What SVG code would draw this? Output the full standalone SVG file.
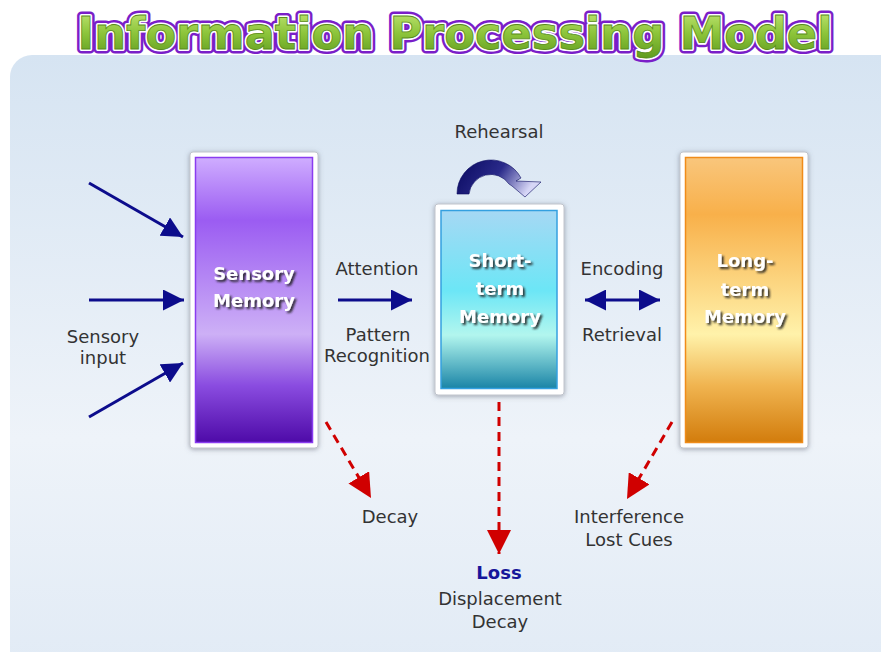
<svg xmlns="http://www.w3.org/2000/svg" width="881" height="652" viewBox="0 0 881 652">
  <defs>
    <linearGradient id="panelFill" x1="0" y1="0" x2="0" y2="1">
      <stop offset="0" stop-color="#d6e4f2"/>
      <stop offset="0.6" stop-color="#eef3f9"/>
      <stop offset="1" stop-color="#e0eaf5"/>
    </linearGradient>
    <linearGradient id="titleFill" x1="0" y1="0" x2="0" y2="1">
      <stop offset="0" stop-color="#c4e878"/>
      <stop offset="0.5" stop-color="#8cc43a"/>
      <stop offset="1" stop-color="#5e9a1e"/>
    </linearGradient>
    <linearGradient id="sensoryFill" x1="0" y1="0" x2="0" y2="1">
      <stop offset="0" stop-color="#cfadff"/>
      <stop offset="0.22" stop-color="#9b5cf2"/>
      <stop offset="0.62" stop-color="#cdb0f6"/>
      <stop offset="0.8" stop-color="#8a4ce0"/>
      <stop offset="1" stop-color="#4e0aa8"/>
    </linearGradient>
    <linearGradient id="shortFill" x1="0" y1="0" x2="0" y2="1">
      <stop offset="0" stop-color="#a6d8f4"/>
      <stop offset="0.45" stop-color="#6ce6f6"/>
      <stop offset="0.7" stop-color="#b2f6ee"/>
      <stop offset="1" stop-color="#1a84a6"/>
    </linearGradient>
    <linearGradient id="longFill" x1="0" y1="0" x2="0" y2="1">
      <stop offset="0" stop-color="#f9c67c"/>
      <stop offset="0.2" stop-color="#f8b04a"/>
      <stop offset="0.62" stop-color="#fff2aa"/>
      <stop offset="0.8" stop-color="#f0b450"/>
      <stop offset="1" stop-color="#d27c0c"/>
    </linearGradient>
    <linearGradient id="loopFill" x1="0" y1="0" x2="1" y2="0.3">
      <stop offset="0" stop-color="#08085e"/>
      <stop offset="0.55" stop-color="#2a2a8a"/>
      <stop offset="1" stop-color="#d6d6f6"/>
    </linearGradient>
    <filter id="frameShadow" x="-20%" y="-10%" width="140%" height="120%">
      <feDropShadow dx="0" dy="1" stdDeviation="2.5" flood-color="#5a6070" flood-opacity="0.55"/>
    </filter>
    <filter id="textShadow" x="-20%" y="-40%" width="140%" height="180%">
      <feDropShadow dx="2" dy="2" stdDeviation="1" flood-color="#1a1a1a" flood-opacity="0.9"/>
    </filter>
    <marker id="navyHead" viewBox="0 0 10 10" refX="10" refY="5" markerWidth="7" markerHeight="7" orient="auto-start-reverse" markerUnits="strokeWidth">
      <path d="M0,0 L10,5 L0,10 Z" fill="#0c0c8c"/>
    </marker>
    <marker id="redHead" viewBox="0 0 10 10" refX="10" refY="5" markerWidth="8" markerHeight="8" orient="auto" markerUnits="strokeWidth">
      <path d="M0,0 L10,5 L0,10 Z" fill="#d00000"/>
    </marker>
    <style>
      .label { font-family: "DejaVu Sans", Verdana, sans-serif; font-size: 18px; fill: #333333; text-anchor: middle; }
      .loss { font-family: "DejaVu Sans", Verdana, sans-serif; font-size: 18px; font-weight: bold; fill: #16169a; text-anchor: middle; }
      .boxText { font-family: "DejaVu Sans", Verdana, sans-serif; font-size: 18px; font-weight: bold; fill: #ffffff; text-anchor: middle; }
      .frame { fill: #ffffff; stroke: #c0c4cc; stroke-width: 1; }
      .navy { stroke: #0c0c8c; stroke-width: 3; fill: none; marker-end: url(#navyHead); }
      .redDash { stroke: #d00000; stroke-width: 3; fill: none; stroke-dasharray: 9 6; marker-end: url(#redHead); }
      .title { font-family: "DejaVu Sans", Verdana, sans-serif; font-size: 44px; font-weight: bold; }
    </style>
  </defs>

  <!-- page and backdrop panel -->
  <rect x="0" y="0" width="881" height="652" fill="#ffffff"/>
  <rect x="10" y="55" width="900" height="640" rx="22" fill="url(#panelFill)"/>

  <!-- title: purple outline, white rim, green face -->
  <g id="title">
    <text class="title" x="455" y="49" text-anchor="middle" textLength="755" lengthAdjust="spacingAndGlyphs" fill="none" stroke="#7a1ec8" stroke-width="9" stroke-linejoin="round">Information Processing Model</text>
    <text class="title" x="455" y="49" text-anchor="middle" textLength="755" lengthAdjust="spacingAndGlyphs" fill="none" stroke="#ffffff" stroke-width="4" stroke-linejoin="round">Information Processing Model</text>
    <text class="title" x="455" y="49" text-anchor="middle" textLength="755" lengthAdjust="spacingAndGlyphs" fill="url(#titleFill)" stroke="#5a8c1a" stroke-width="0.8">Information Processing Model</text>
  </g>

  <!-- memory stores -->
  <g id="sensory-memory">
    <rect class="frame" x="190" y="152" width="128" height="296" rx="3" filter="url(#frameShadow)"/>
    <rect x="195.5" y="157.5" width="117" height="285" fill="url(#sensoryFill)" stroke="#8a3cf0" stroke-width="1.5"/>
    <g filter="url(#textShadow)">
      <text class="boxText" x="254" y="280">Sensory</text>
      <text class="boxText" x="254" y="307">Memory</text>
    </g>
  </g>

  <g id="short-term-memory">
    <rect class="frame" x="435" y="204" width="129" height="191" rx="3" filter="url(#frameShadow)"/>
    <rect x="441" y="210.5" width="116" height="178" fill="url(#shortFill)" stroke="#34a0e0" stroke-width="1.5"/>
    <g filter="url(#textShadow)">
      <text class="boxText" x="500" y="267">Short-</text>
      <text class="boxText" x="500" y="295">term</text>
      <text class="boxText" x="500" y="323">Memory</text>
    </g>
  </g>

  <g id="long-term-memory">
    <rect class="frame" x="680" y="152" width="128" height="296" rx="3" filter="url(#frameShadow)"/>
    <rect x="685.5" y="157.5" width="117" height="285" fill="url(#longFill)" stroke="#f08c1a" stroke-width="1.5"/>
    <g filter="url(#textShadow)">
      <text class="boxText" x="745" y="267">Long-</text>
      <text class="boxText" x="745" y="296">term</text>
      <text class="boxText" x="745" y="323">Memory</text>
    </g>
  </g>

  <!-- connectors -->
  <g id="connectors">
    <line class="navy" x1="89" y1="183" x2="183" y2="237"/>
    <line class="navy" x1="89" y1="300" x2="184" y2="300"/>
    <line class="navy" x1="89" y1="417" x2="183" y2="363"/>
    <line class="navy" x1="338" y1="300" x2="412" y2="300"/>
    <line class="navy" x1="585" y1="300" x2="660" y2="300" marker-start="url(#navyHead)"/>
    <!-- rehearsal loop -->
    <path d="M457,194 A34,34 0 0 1 521,178 L516,181 L541,182 L525,197 L512,186 L509,184 A22,22 0 0 0 469,194 Z" fill="url(#loopFill)" stroke="#0a0a60" stroke-width="0.6" stroke-linejoin="round"/>
    <line class="redDash" x1="326" y1="422" x2="371" y2="498"/>
    <line class="redDash" x1="499" y1="402" x2="499" y2="554"/>
    <line class="redDash" x1="672" y1="422" x2="627" y2="499"/>
  </g>

  <!-- labels -->
  <g id="labels">
    <text class="label" x="499" y="138">Rehearsal</text>
    <text class="label" x="377" y="275">Attention</text>
    <text class="label" x="378" y="341">Pattern</text>
    <text class="label" x="377" y="362">Recognition</text>
    <text class="label" x="622" y="275">Encoding</text>
    <text class="label" x="622" y="341">Retrieval</text>
    <text class="label" x="103" y="343">Sensory</text>
    <text class="label" x="103" y="364">input</text>
    <text class="label" x="390" y="523">Decay</text>
    <text class="label" x="629" y="523">Interference</text>
    <text class="label" x="629" y="546">Lost Cues</text>
    <text class="loss" x="499" y="579">Loss</text>
    <text class="label" x="500" y="605">Displacement</text>
    <text class="label" x="500" y="628">Decay</text>
  </g>
</svg>
